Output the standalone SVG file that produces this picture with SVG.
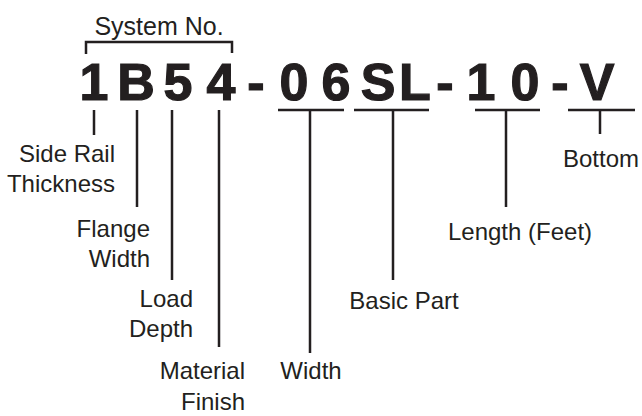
<svg xmlns="http://www.w3.org/2000/svg" width="642" height="416" viewBox="0 0 642 416">
<style>
.code{font-family:"Liberation Sans",Arial,sans-serif;font-weight:bold;font-size:52px;fill:#231f20;stroke:#231f20;stroke-width:1.2;text-anchor:middle}
.lbl{font-family:"Liberation Sans",Arial,sans-serif;font-size:24px;fill:#231f20}
.r{text-anchor:end}
.m{text-anchor:middle}
.ln{stroke:#231f20;stroke-width:2.5;fill:none}
</style>
<rect width="642" height="416" fill="#ffffff"/>
<g id="system-no">
<path class="ln" d="M86,54 V42 H232 V53"/>
<text class="lbl m" x="159" y="35" style="font-size:25px">System No.</text>
</g>
<g id="code">
<text class="code" x="94" y="100">1</text>
<text class="code" x="136" y="100">B</text>
<text class="code" x="178" y="100">5</text>
<text class="code" x="221" y="100">4</text>
<text class="code" x="256" y="100">-</text>
<text class="code" x="294" y="100">0</text>
<text class="code" x="336" y="100">6</text>
<text class="code" x="378" y="100">S</text>
<text class="code" x="415" y="100">L</text>
<text class="code" x="445" y="100">-</text>
<text class="code" x="481" y="100">1</text>
<text class="code" x="525" y="100">0</text>
<text class="code" x="560" y="100">-</text>
<text class="code" x="597" y="100">V</text>
</g>
<g id="connectors">
<path class="ln" d="M278,110 H344 M354,110 H429 M475,110 H540 M568,110 H635"/>
<path class="ln" d="M94,110 V135 M137,110 V207 M172,110 V280 M219,110 V347 M310,110 V353 M393,110 V280 M506,110 V207 M600,110 V134"/>
</g>
<g id="side-rail-thickness">
<text class="lbl r" x="115" y="162">Side Rail</text>
<text class="lbl r" x="115" y="192">Thickness</text>
</g>
<g id="flange-width">
<text class="lbl r" x="150" y="237">Flange</text>
<text class="lbl r" x="150" y="267">Width</text>
</g>
<g id="load-depth">
<text class="lbl r" x="193" y="307">Load</text>
<text class="lbl r" x="193" y="337">Depth</text>
</g>
<g id="material-finish">
<text class="lbl r" x="245" y="379">Material</text>
<text class="lbl r" x="245" y="410">Finish</text>
</g>
<g id="width">
<text class="lbl m" x="311" y="379">Width</text>
</g>
<g id="basic-part">
<text class="lbl m" x="404" y="309">Basic Part</text>
</g>
<g id="length">
<text class="lbl m" x="520" y="240">Length (Feet)</text>
</g>
<g id="bottom">
<text class="lbl m" x="601" y="167">Bottom</text>
</g>
</svg>
